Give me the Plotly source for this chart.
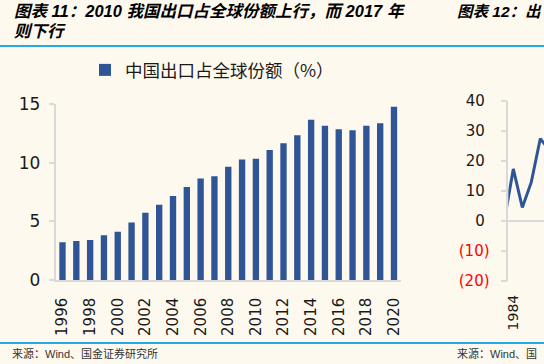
import plotly.graph_objects as go

# ---- data ----
years = [str(y) for y in range(1996, 2021)]
share = [3.21, 3.32, 3.41, 3.81, 4.12, 4.91, 5.74, 6.42, 7.16, 7.93, 8.64, 8.84,
         9.66, 10.26, 10.34, 11.08, 11.65, 12.33, 13.66, 13.15, 12.84, 12.76,
         13.15, 13.35, 14.77]
year_ticks = [str(y) for y in range(1996, 2021, 2)]

years2 = [1983, 1984, 1985, 1986, 1987, 1988]
growth = [0.0, 17.3, 4.5, 12.9, 27.4, 23.5]
y2_ticks = [-20, -10, 0, 10, 20, 30, 40]
y2_text = ["<span style='color:#FF0000'>(20)</span>", "<span style='color:#FF0000'>(10)</span>",
           "0\u00a0", "10\u00a0", "20\u00a0", "30\u00a0", "40\u00a0"]

W, H = 544, 364
BG = "#FEF9EE"
BAR = "#2F5597"
AX = "#D9D9D9"
RULE = "#22A9E6"
TXT = "Liberation Sans, Noto Sans CJK SC, sans-serif"
NUM = "DejaVu Sans, sans-serif"

def px(x):
    return x / W

def py(y):
    return 1 - y / H

fig = go.Figure()
fig.add_trace(go.Bar(x=years, y=share, name="中国出口占全球份额（%）",
                     marker=dict(color=BAR, line=dict(width=0)),
                     xaxis="x", yaxis="y"))
fig.add_trace(go.Scatter(x=years2, y=growth, mode="lines", showlegend=False,
                         line=dict(color=BAR, width=3),
                         xaxis="x2", yaxis="y2"))

x2_left = 508.3
x2_range = [1984 - 5 / 9, 1984 - 5 / 9 + (W - x2_left) / 9]

fig.update_layout(
    width=W, height=H, autosize=False,
    margin=dict(l=0, r=0, t=0, b=0, autoexpand=False),
    paper_bgcolor=BG, plot_bgcolor=BG,
    bargap=0.54,
    showlegend=True,
    legend=dict(orientation="h", x=px(85), y=py(70), xanchor="left", yanchor="middle",
                bgcolor="rgba(0,0,0,0)", itemwidth=30,
                font=dict(family="Noto Sans CJK SC, sans-serif", size=17.5, color="#1a1a1a")),
    xaxis=dict(domain=[px(55.6), px(400.9)], type="category", anchor="y", automargin=False,
               tickmode="array", tickvals=year_ticks, ticktext=year_ticks,
               tickangle=-90, ticks="", showline=True, linecolor=AX, linewidth=1.5,
               showgrid=False, zeroline=False, ticklabelstandoff=10,
               tickfont=dict(family=NUM, size=15, color="#1a1a1a")),
    yaxis=dict(domain=[py(280), py(104)], range=[0, 15], anchor="x", automargin=False,
               tickmode="array", tickvals=[0, 5, 10, 15],
               ticks="outside", ticklen=5, tickcolor=AX, tickwidth=1.5,
               showline=True, linecolor=AX, linewidth=1.5,
               showgrid=False, zeroline=False, ticklabelstandoff=5,
               tickfont=dict(family=NUM, size=17, color="#1a1a1a")),
    xaxis2=dict(domain=[px(x2_left), 1], range=x2_range, anchor="y2", automargin=False,
                tickmode="array", tickvals=[1984, 1988, 1992], ticktext=["1984", "1988", "1992"],
                tickangle=-90, ticks="", showline=False, showgrid=False, zeroline=False,
                ticklabelstandoff=10,
                tickfont=dict(family=NUM, size=14, color="#1a1a1a")),
    yaxis2=dict(domain=[py(281), py(100.7)], range=[-20, 40], anchor="x2", automargin=False,
                tickmode="array", tickvals=y2_ticks, ticktext=y2_text,
                ticks="outside", ticklen=6, tickcolor=AX, tickwidth=1.5,
                showline=True, linecolor=AX, linewidth=1.5,
                showgrid=False, zeroline=True, zerolinecolor=AX, zerolinewidth=1.5,
                ticklabelstandoff=8,
                tickfont=dict(family=NUM, size=15, color="#1a1a1a")),
    shapes=[
        dict(type="line", xref="paper", yref="paper", x0=0, x1=1, y0=py(46), y1=py(46),
             line=dict(color=RULE, width=2)),
        dict(type="line", xref="paper", yref="paper", x0=0, x1=1, y0=py(343), y1=py(343),
             line=dict(color=RULE, width=2)),
    ],
)

title_font = dict(family=TXT, size=16.5, color="#000000", weight="bold", style="italic")
title_font2 = dict(family=TXT, size=15.5, color="#000000", weight="bold", style="italic")
src_font = dict(family=TXT, size=11, color="#333333")
ann = [
    dict(text="图表 11：2010 我国出口占全球份额上行，而 2017 年", x=px(12), y=py(11), f=title_font),
    dict(text="则下行", x=px(12), y=py(31), f=title_font),
    dict(text="图表 12：出", x=px(455), y=py(11), f=title_font2),
]
for a in ann:
    fig.add_annotation(text=a["text"], x=a["x"], y=a["y"], xref="paper", yref="paper",
                       xanchor="left", yanchor="middle", showarrow=False, font=a["f"])
for sx, txt in ((10, "来源：Wind、国金证券研究所"), (455, "来源：Wind、国")):
    fig.add_annotation(text=txt, x=px(sx), y=py(353), xref="paper", yref="paper",
                       xanchor="left", yanchor="middle", showarrow=False, font=src_font)

post = ("document.body.style.margin='0';document.body.style.padding='0';"
        "var gd=document.getElementById('{plot_id}');"
        "gd.style.position='absolute';gd.style.left='0px';gd.style.top='0px';")
fig.write_html("out.html", post_script=post, config={"displayModeBar": False})
